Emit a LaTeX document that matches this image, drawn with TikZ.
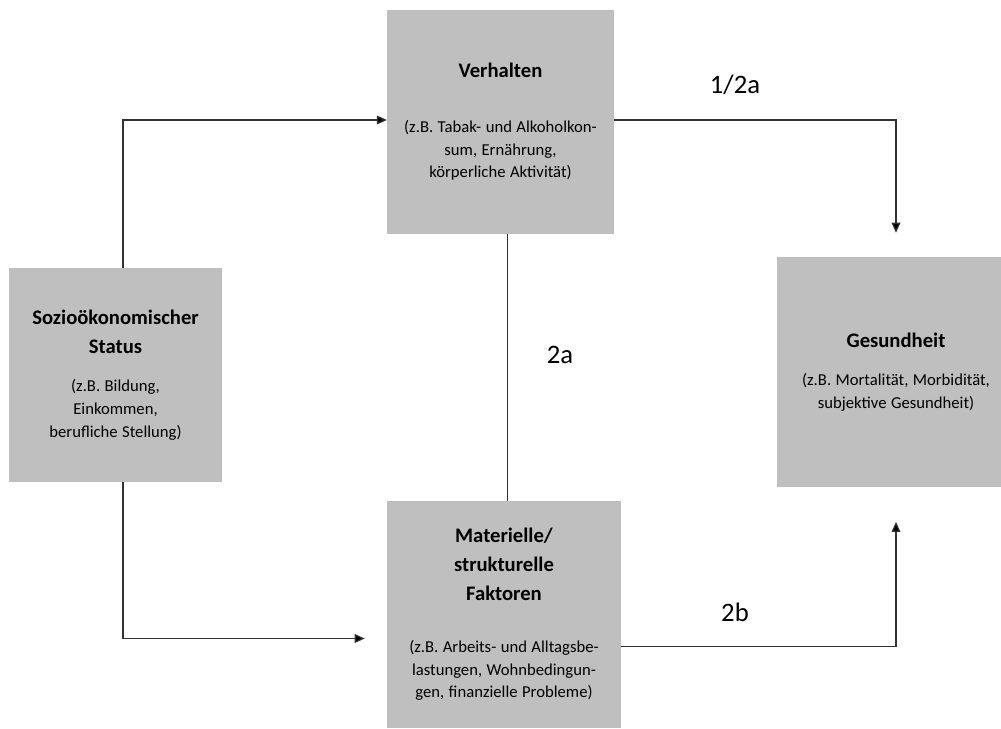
\documentclass[tikz,border=0pt]{standalone}
\usepackage{fontspec}
\setmainfont{Carlito}
\usetikzlibrary{arrows.meta, positioning, calc}
\definecolor{boxgray}{RGB}{191,191,191}
\definecolor{linegray}{RGB}{50,50,50}
\newcommand{\titlefont}{\fontsize{15.5}{21.75}\selectfont\bfseries}
\newcommand{\subfont}{\fontsize{12.5}{17}\selectfont}
\newcommand{\boxtext}[3]{{\titlefont #1\par}\vspace{#2}{\subfont #3\par}}

\begin{document}
\begin{tikzpicture}[x=0.75pt, y=-0.75pt, >={Triangle[length=7.5pt,width=6.5pt]},
    box/.style={rectangle, fill=boxgray, inner sep=0pt, align=center},
    conn/.style={draw=linegray, line width=0.9pt, arrows={->[fill=black]}},
    lbl/.style={font=\fontsize{20}{24}\selectfont, inner sep=0pt}]
    \useasboundingbox (0,0) rectangle (1001,729);

    \node[box, text width=170pt, minimum height=168pt] (verh) at (500.5,122)
        {\boxtext{Verhalten}{24pt}{(z.B. Tabak- und Alkoholkon-\\sum, Ernährung,\\körperliche Aktivität)}};
    \node[box, text width=160pt, minimum height=160.5pt] (sozio) at (115.5,375)
        {\boxtext{Sozioökonomischer\\Status}{12pt}{(z.B. Bildung,\\Einkommen,\\berufliche Stellung)}};
    \node[box, text width=175.5pt, minimum height=170pt] (mat) at (504,614.5)
        {\boxtext{Materielle/\\strukturelle\\Faktoren}{22pt}{(z.B. Arbeits- und Alltagsbe-\\lastungen, Wohnbedingun-\\gen, finanzielle Probleme)}};
    \node[box, text width=178.5pt, minimum height=172.5pt] (ges) at (896,372)
        {\boxtext{Gesundheit}{12pt}{(z.B. Mortalität, Morbidität,\\subjektive Gesundheit)}};

    \draw[conn] ([xshift=5.6pt]sozio.north) |- ([yshift=1.5pt]verh.west);
    \draw[conn] ([yshift=1.5pt]verh.east) -| ([yshift=18pt]ges.north);
    \draw[conn] ([xshift=5.6pt]sozio.south) |- ([xshift=-16.5pt, yshift=-18pt]mat.west);
    \draw[conn] ([yshift=-24pt]mat.east) -| ([yshift=-26pt]ges.south);
    \draw[conn, arrows=-] ([xshift=5pt]verh.south) -- ([xshift=5pt]verh.south |- mat.north);

    \node[lbl] (l1) at (735,85) {1/2a};
    \node[lbl] (l2) at (560,355) {2a};
    \node[lbl] (l3) at (735,612) {2b};
\end{tikzpicture}
\end{document}
